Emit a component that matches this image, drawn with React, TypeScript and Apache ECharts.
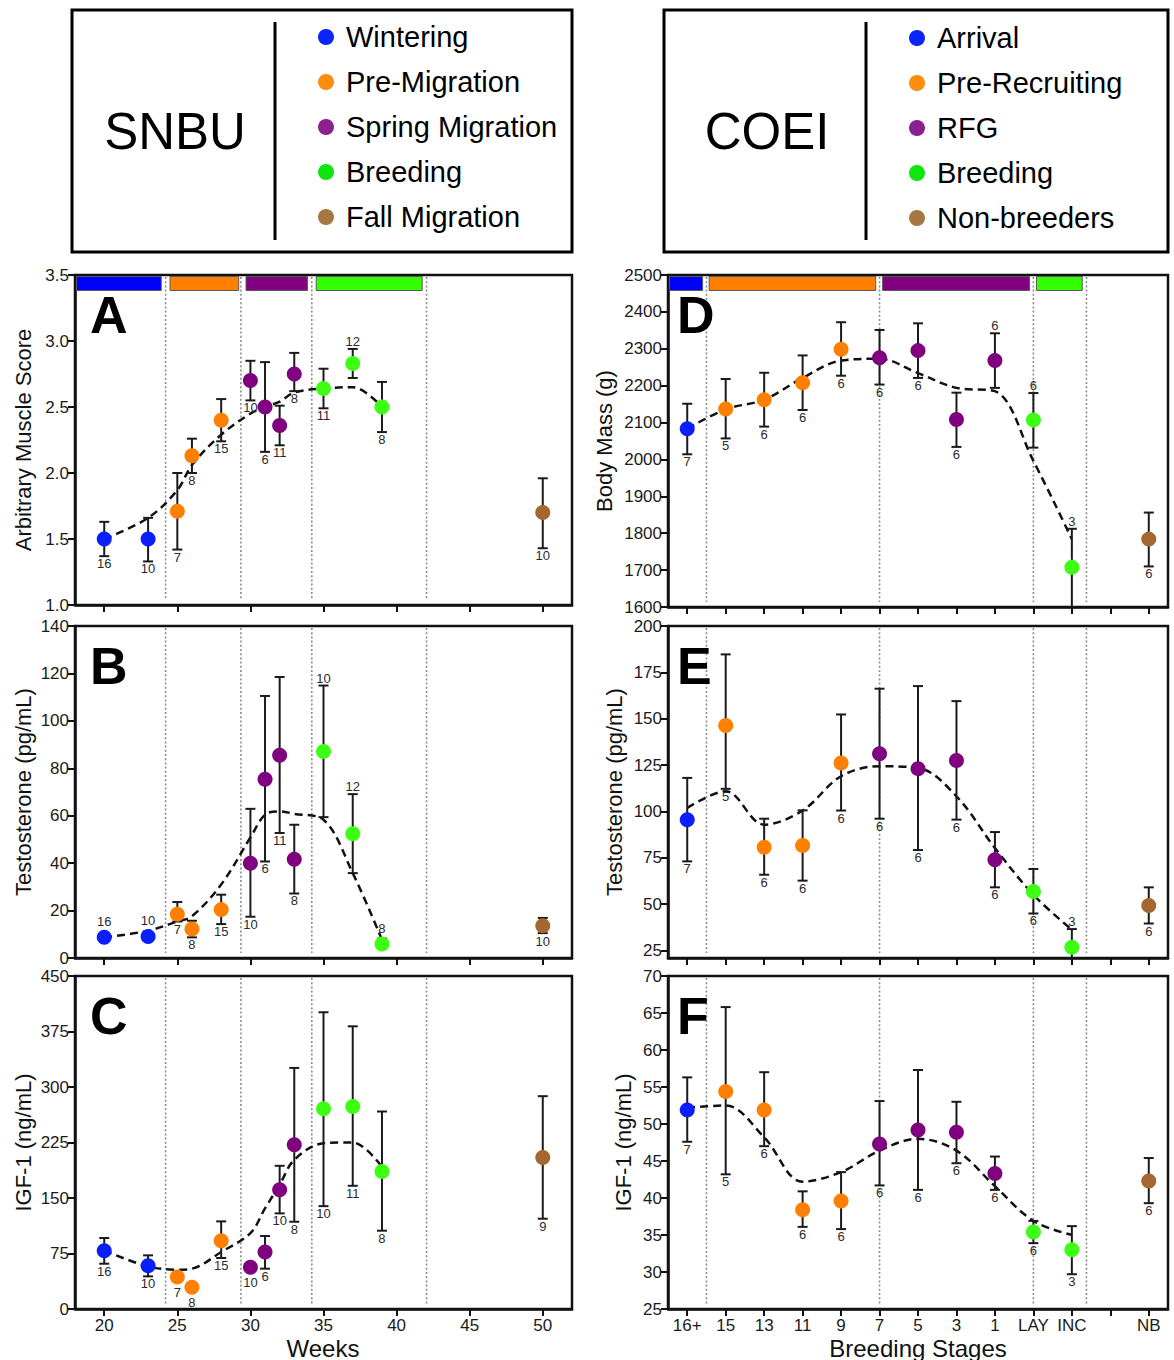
import React, { useEffect, useRef } from "react";
import * as echarts from "echarts";

const FONT = "'Liberation Sans', Arial, Helvetica, sans-serif";

// ---------- colours ----------
const POINT_COLORS = ["#0a1eff", "#ff7f00", "#800080", "#3cff14", "#a3672f"];
const BAR_COLORS = ["#0000ff", "#ff7f00", "#800080", "#33ff00"];
const LEGEND_DOT_COLORS = ["#0b24fb", "#fd8d0d", "#8e1f8e", "#0fe50f", "#a57743"];

// ---------- legends ----------
const SNBU_STAGES = ["Wintering", "Pre-Migration", "Spring Migration", "Breeding", "Fall Migration"];
const COEI_STAGES = ["Arrival", "Pre-Recruiting", "RFG", "Breeding", "Non-breeders"];

// ---------- SNBU (panels A-C) ----------
const WEEKS = [20, 23, 25, 26, 28, 30, 31, 32, 33, 35, 37, 39, 50];
const SNBU_GROUP = [0, 0, 1, 1, 1, 2, 2, 2, 2, 3, 3, 3, 4];
const WEEK_TICKS = [20, 25, 30, 35, 40, 45, 50];
const SNBU_DIVIDERS = [24.2, 29.35, 34.2, 42.05];
const SNBU_BAR_START = [18.1, 24.5, 29.7, 34.5];
const SNBU_BAR_END = [23.9, 29.2, 33.9, 41.75];
const SNBU_TREND_WEEKS = [20, 23, 25, 26, 28, 30, 31, 32, 33, 35, 37, 39];

const A_MEAN = [1.5, 1.5, 1.71, 2.13, 2.4, 2.7, 2.5, 2.36, 2.75, 2.64, 2.83, 2.5, 1.7];
const A_LOW = [1.37, 1.33, 1.42, 2.0, 2.24, 2.55, 2.16, 2.21, 2.62, 2.49, 2.72, 2.31, 1.43];
const A_HIGH = [1.63, 1.66, 2.0, 2.26, 2.56, 2.85, 2.84, 2.51, 2.91, 2.79, 2.94, 2.69, 1.96];
const A_N = [16, 10, 7, 8, 15, 10, 6, 11, 8, 11, 12, 8, 10];
const A_NABOVE = [0, 0, 0, 0, 0, 0, 0, 0, 0, 0, 1, 0, 0];
const A_TREND = [1.5, 1.66, 1.87, 2.06, 2.29, 2.45, 2.5, 2.54, 2.61, 2.64, 2.65, 2.5];

const B_MEAN = [8.7, 9.1, 18.5, 12.2, 20.4, 40.0, 75.4, 85.5, 41.6, 87.1, 52.4, 5.9, 13.6];
const B_LOW = [7.8, 8.2, 15.4, 8.7, 14.3, 17.4, 40.7, 52.7, 27.2, 59.4, 35.8, 4.5, 10.5];
const B_HIGH = [9.8, 10.0, 23.6, 15.7, 26.7, 62.9, 110.5, 118.5, 56.2, 114.9, 69.1, 8.2, 16.9];
const B_N = [16, 10, 7, 8, 15, 10, 6, 11, 8, 10, 12, 8, 10];
const B_NABOVE = [1, 1, 0, 0, 0, 0, 0, 0, 0, 1, 1, 1, 0];
const B_TREND = [8.7, 11.5, 15.4, 17.6, 31, 50.8, 60.4, 61.8, 60.8, 58.3, 35.8, 7.7];

const C_MEAN = [78.8, 58.5, 43.2, 29.3, 92.3, 56.3, 77, 161, 221.9, 270.5, 273.6, 185.9, 204.8];
const C_LOW = [61.2, 44.1, 43.2, 29.3, 68.9, 56.3, 54.5, 129.2, 117.9, 139, 166.5, 105.8, 122];
const C_HIGH = [95.9, 72.5, 43.2, 29.3, 118.4, 56.3, 98.6, 193.5, 325.8, 401, 382, 266.9, 287.6];
const C_N = [16, 10, 7, 8, 15, 10, 6, 10, 8, 10, 11, 8, 9];
const C_NABOVE = [0, 0, 0, 0, 0, 0, 0, 0, 0, 0, 0, 0, 0];
const C_TREND = [78.8, 57.6, 53.1, 54.5, 77, 102.6, 136, 168, 201.6, 224, 225, 192];

// ---------- COEI (panels D-F) ----------
const STAGE_LABELS = ["16+", "15", "13", "11", "9", "7", "5", "3", "1", "LAY", "INC", "", "NB"];
const STAGE_TICKS = [0, 1, 2, 3, 4, 5, 6, 7, 8, 9, 10, 11, 12];
const STAGE_X = [0, 1, 2, 3, 4, 5, 6, 7, 8, 9, 10, 12];
const COEI_GROUP = [0, 1, 1, 1, 1, 2, 2, 2, 2, 3, 3, 4];
const COEI_DIVIDERS = [0.5, 5, 9, 10.38];
const COEI_BAR_START = [-0.46, 0.57, 5.08, 9.08];
const COEI_BAR_END = [0.4, 4.9, 8.9, 10.27];
const COEI_TREND_X = [0, 1, 2, 3, 4, 5, 6, 7, 8, 9, 10];

const D_MEAN = [2083, 2137, 2162, 2208, 2299, 2276, 2295, 2108, 2268, 2107, 1708, 1784];
const D_LOW = [2014, 2057, 2089, 2134, 2227, 2203, 2221, 2034, 2194, 2032, 1600, 1710];
const D_HIGH = [2151, 2218, 2235, 2282, 2372, 2351, 2369, 2181, 2342, 2180, 1812, 1856];
const D_N = [7, 5, 6, 6, 6, 6, 6, 6, 6, 6, 3, 6];
const D_NABOVE = [0, 0, 0, 0, 0, 0, 0, 0, 1, 1, 1, 0];
const D_TREND = [2083, 2136, 2162, 2221, 2268, 2273, 2234, 2194, 2185, 1996, 1784];

const E_MEAN = [95.6, 146.4, 80.7, 81.7, 126.2, 131.1, 123.1, 127.5, 74, 56.9, 26.8, 49.3];
const E_LOW = [73.1, 112.2, 65.9, 62.7, 100.5, 96.1, 79.2, 95.6, 59.1, 45, 21, 39.6];
const E_HIGH = [118.1, 184.7, 96.1, 100.6, 152.3, 166.2, 167.6, 159.5, 88.9, 69, 36.6, 59.1];
const E_N = [7, 5, 6, 6, 6, 6, 6, 6, 6, 6, 3, 6];
const E_NABOVE = [0, 0, 0, 0, 0, 0, 0, 0, 0, 0, 1, 0];
const E_TREND = [101.9, 110.9, 92.9, 100.5, 119, 124.4, 123.5, 108.2, 80.3, 55.1, 36.2];
const E_TICKS = [25, 50, 75, 100, 125, 150, 175, 200];

const F_MEAN = [51.9, 54.4, 51.9, 38.4, 39.6, 47.3, 49.2, 48.9, 43.3, 35.4, 33.0, 42.3];
const F_LOW = [47.6, 43.2, 47.0, 36.1, 35.8, 41.7, 41.1, 44.7, 41.1, 33.9, 29.7, 39.3];
const F_HIGH = [56.3, 65.8, 57.0, 40.9, 43.5, 53.1, 57.3, 53.0, 45.6, 36.9, 36.2, 45.4];
const F_N = [7, 5, 6, 6, 6, 6, 6, 6, 6, 6, 3, 6];
const F_NABOVE = [0, 0, 0, 0, 0, 0, 0, 0, 0, 0, 0, 0];
const F_TREND = [52.2, 52.5, 48.2, 42.2, 43.5, 46.4, 48, 46.4, 41.6, 36.9, 35];

// ---------- helpers ----------
type Panel = {
  letter: string;
  grid: { left: number; top: number; width: number; height: number };
  xMin: number; xMax: number; xTicks: number[]; showXLabels: boolean; xFormatter?: (v: number) => string;
  yMin: number; yMax: number; yInterval?: number; yTicks?: number[]; yFormatter?: (v: number) => string;
  yName: string; yNameX: number;
  xs: number[]; groups: number[]; mean: number[]; low: number[]; high: number[]; n: number[]; nAbove: number[];
  trendX: number[]; trendY: number[];
  dividers: number[];
  bars?: { start: number[]; end: number[] };
};

const AXIS_COLOR = "#111";

function buildPanel(p: Panel, i: number, option: any) {
  option.grid.push({
    ...p.grid,
    show: true,
    borderColor: AXIS_COLOR,
    borderWidth: 2.5,
    backgroundColor: "rgba(0,0,0,0)",
    containLabel: false,
    outerBoundsMode: "none",
  });
  option.xAxis.push({
    type: "value",
    gridIndex: i,
    min: p.xMin,
    max: p.xMax,
    axisLine: { show: true, onZero: false, lineStyle: { color: AXIS_COLOR, width: 2.5 } },
    axisTick: { show: true, customValues: p.xTicks, length: 7, lineStyle: { color: AXIS_COLOR, width: 2 } },
    axisLabel: {
      show: p.showXLabels,
      customValues: p.xTicks,
      formatter: p.xFormatter || ((v: number) => String(v)),
      fontSize: 17,
      color: "#1a1a1a",
      fontFamily: FONT,
      margin: 8,
    },
    splitLine: { show: false },
  });
  const yAxis: any = {
    type: "value",
    gridIndex: i,
    min: p.yMin,
    max: p.yMax,
    axisLine: { show: true, onZero: false, lineStyle: { color: AXIS_COLOR, width: 2.5 } },
    axisTick: { show: true, length: 7, lineStyle: { color: AXIS_COLOR, width: 2 } },
    axisLabel: {
      fontSize: 17,
      color: "#1a1a1a",
      fontFamily: FONT,
      margin: 6,
      formatter: p.yFormatter || ((v: number) => String(v)),
    },
    splitLine: { show: false },
  };
  if (p.yInterval) yAxis.interval = p.yInterval;
  if (p.yTicks) {
    yAxis.axisTick.customValues = p.yTicks;
    yAxis.axisLabel.customValues = p.yTicks;
  }
  option.yAxis.push(yAxis);

  // dotted dividers
  option.series.push({
    type: "custom",
    xAxisIndex: i,
    yAxisIndex: i,
    z: 1,
    silent: true,
    data: p.dividers.map((d) => [d, p.yMin]),
    encode: { x: 0, y: 1 },
    renderItem: (params: any, api: any) => {
      const cs = params.coordSys;
      const pt = api.coord([api.value(0), api.value(1)]);
      return {
        type: "line",
        shape: { x1: pt[0], y1: cs.y + 2, x2: pt[0], y2: cs.y + cs.height - 5 },
        style: { stroke: "#8c8c8c", lineWidth: 1.6, lineDash: [2, 2.2] },
      };
    },
  });

  // stage bars on top
  if (p.bars) {
    option.series.push({
      type: "custom",
      xAxisIndex: i,
      yAxisIndex: i,
      z: 2,
      silent: true,
      data: p.bars.start.map((s, k) => [s, p.bars!.end[k], p.yMax, k]),
      encode: { x: [0, 1], y: 2 },
      renderItem: (params: any, api: any) => {
        const a = api.coord([api.value(0), api.value(2)]);
        const b = api.coord([api.value(1), api.value(2)]);
        return {
          type: "rect",
          shape: { x: a[0], y: a[1] + 1.5, width: b[0] - a[0], height: 14 },
          style: { fill: BAR_COLORS[api.value(3)], stroke: "#5a5a5a", lineWidth: 1 },
        };
      },
    });
  }

  // dashed trend
  option.series.push({
    type: "line",
    xAxisIndex: i,
    yAxisIndex: i,
    z: 3,
    silent: true,
    data: p.trendX.map((x, k) => [x, p.trendY[k]]),
    showSymbol: false,
    symbol: "none",
    smooth: 0.35,
    lineStyle: { color: "#111", width: 2.5, type: [8, 5] },
  });

  // error bars
  option.series.push({
    type: "custom",
    xAxisIndex: i,
    yAxisIndex: i,
    z: 4,
    silent: true,
    clip: true,
    data: p.xs.map((x, k) => [x, p.low[k], p.high[k]]),
    encode: { x: 0, y: [1, 2] },
    renderItem: (params: any, api: any) => {
      const x = api.value(0);
      const lo = api.value(1);
      const hi = api.value(2);
      if (hi - lo <= 0) return { type: "group", children: [] };
      const pl = api.coord([x, lo]);
      const ph = api.coord([x, hi]);
      const w = 5;
      const st = { stroke: "#1a1a1a", lineWidth: 2 };
      return {
        type: "group",
        children: [
          { type: "line", shape: { x1: pl[0], y1: pl[1], x2: ph[0], y2: ph[1] }, style: st },
          { type: "line", shape: { x1: ph[0] - w, y1: ph[1], x2: ph[0] + w, y2: ph[1] }, style: st },
          { type: "line", shape: { x1: pl[0] - w, y1: pl[1], x2: pl[0] + w, y2: pl[1] }, style: st },
        ],
      };
    },
  });

  // points
  option.series.push({
    type: "scatter",
    xAxisIndex: i,
    yAxisIndex: i,
    z: 5,
    silent: true,
    symbolSize: 15,
    data: p.xs.map((x, k) => ({
      value: [x, p.mean[k]],
      itemStyle: { color: POINT_COLORS[p.groups[k]], opacity: 1 },
    })),
  });

  // n labels
  option.series.push({
    type: "custom",
    xAxisIndex: i,
    yAxisIndex: i,
    z: 6,
    silent: true,
    data: p.xs.map((x, k) => [x, p.mean[k], p.low[k], p.high[k], p.n[k], p.nAbove[k]]),
    encode: { x: 0, y: 1 },
    renderItem: (params: any, api: any) => {
      const x = api.value(0);
      const m = api.value(1);
      const lo = api.value(2);
      const hi = api.value(3);
      const n = api.value(4);
      const above = api.value(5);
      const pm = api.coord([x, m]);
      let y: number;
      let va: string;
      if (above) {
        const pa = api.coord([x, hi]);
        y = Math.min(pa[1], pm[1] - 8) - 1;
        va = "bottom";
      } else {
        const pa = api.coord([x, lo]);
        y = Math.max(pa[1], pm[1] + 8) + 1;
        va = "top";
      }
      return {
        type: "text",
        x: pm[0],
        y,
        style: {
          text: String(n),
          fill: "#2a2a2a",
          fontSize: 13,
          fontFamily: FONT,
          align: "center",
          verticalAlign: va,
        },
      };
    },
  });

  // panel letter
  option.graphic.push({
    type: "text",
    x: p.grid.left + (i < 3 ? 15 : 9),
    y: p.grid.top + 40,
    z: 10,
    style: { text: p.letter, font: `bold 52px ${FONT}`, fill: "#000", align: "left", verticalAlign: "middle" },
  });
  // y axis name
  option.graphic.push({
    type: "text",
    x: p.yNameX,
    y: p.grid.top + p.grid.height / 2,
    rotation: Math.PI / 2,
    z: 10,
    style: { text: p.yName, font: `22px ${FONT}`, fill: "#111", align: "center", verticalAlign: "middle" },
  });
}

function legendGraphics(boxX: number, boxW: number, title: string, titleX: number, dividerX: number, names: string[], dotX: number, y0: number) {
  const els: any[] = [
    { type: "rect", shape: { x: boxX, y: 10, width: boxW, height: 242 }, style: { fill: "#fff", stroke: "#000", lineWidth: 3 }, z: 1 },
    { type: "line", shape: { x1: dividerX, y1: 22, x2: dividerX, y2: 240 }, style: { stroke: "#000", lineWidth: 3 }, z: 2 },
    { type: "text", x: titleX, y: 131, z: 2, style: { text: title, font: `51px ${FONT}`, fill: "#000", align: "center", verticalAlign: "middle" } },
  ];
  names.forEach((nm, k) => {
    const y = y0 + k * 45;
    els.push({ type: "circle", shape: { cx: dotX, cy: y, r: 8 }, style: { fill: LEGEND_DOT_COLORS[k] }, z: 2 });
    els.push({ type: "text", x: dotX + 20, y: y, z: 2, style: { text: nm, font: `29px ${FONT}`, fill: "#000", align: "left", verticalAlign: "middle" } });
  });
  return els;
}

export default function App() {
  const ref = useRef<HTMLDivElement>(null);

  useEffect(() => {
    document.body.style.margin = "0";
    if (!ref.current) return;
    const chart = echarts.init(ref.current, null, { renderer: "svg", width: 1174, height: 1360 });

    const option: any = {
      animation: false,
      backgroundColor: "#fff",
      textStyle: { fontFamily: FONT },
      grid: [],
      xAxis: [],
      yAxis: [],
      series: [],
      graphic: [],
    };

    const leftGrid = (top: number, height: number) => ({ left: 75, top, width: 497, height });
    const rightGrid = (top: number, height: number) => ({ left: 668, top, width: 500, height });
    const weekFmt = (v: number) => String(v);
    const stageFmt = (v: number) => STAGE_LABELS[Math.round(v)] ?? "";

    const panels: Panel[] = [
      {
        letter: "A", grid: leftGrid(275, 330), xMin: 18, xMax: 52, xTicks: WEEK_TICKS, showXLabels: false, xFormatter: weekFmt,
        yMin: 1, yMax: 3.5, yInterval: 0.5, yFormatter: (v) => v.toFixed(1), yName: "Arbitrary Muscle Score", yNameX: 23,
        xs: WEEKS, groups: SNBU_GROUP, mean: A_MEAN, low: A_LOW, high: A_HIGH, n: A_N, nAbove: A_NABOVE,
        trendX: SNBU_TREND_WEEKS, trendY: A_TREND, dividers: SNBU_DIVIDERS, bars: { start: SNBU_BAR_START, end: SNBU_BAR_END },
      },
      {
        letter: "B", grid: leftGrid(626, 332), xMin: 18, xMax: 52, xTicks: WEEK_TICKS, showXLabels: false, xFormatter: weekFmt,
        yMin: 0, yMax: 140, yInterval: 20, yName: "Testosterone (pg/mL)", yNameX: 23,
        xs: WEEKS, groups: SNBU_GROUP, mean: B_MEAN, low: B_LOW, high: B_HIGH, n: B_N, nAbove: B_NABOVE,
        trendX: SNBU_TREND_WEEKS, trendY: B_TREND, dividers: SNBU_DIVIDERS,
      },
      {
        letter: "C", grid: leftGrid(976, 333), xMin: 18, xMax: 52, xTicks: WEEK_TICKS, showXLabels: true, xFormatter: weekFmt,
        yMin: 0, yMax: 450, yInterval: 75, yName: "IGF-1 (ng/mL)", yNameX: 23,
        xs: WEEKS, groups: SNBU_GROUP, mean: C_MEAN, low: C_LOW, high: C_HIGH, n: C_N, nAbove: C_NABOVE,
        trendX: SNBU_TREND_WEEKS, trendY: C_TREND, dividers: SNBU_DIVIDERS,
      },
      {
        letter: "D", grid: rightGrid(275, 332), xMin: -0.5, xMax: 12.5, xTicks: STAGE_TICKS, showXLabels: false, xFormatter: stageFmt,
        yMin: 1600, yMax: 2500, yInterval: 100, yName: "Body Mass (g)", yNameX: 604,
        xs: STAGE_X, groups: COEI_GROUP, mean: D_MEAN, low: D_LOW, high: D_HIGH, n: D_N, nAbove: D_NABOVE,
        trendX: COEI_TREND_X, trendY: D_TREND, dividers: COEI_DIVIDERS, bars: { start: COEI_BAR_START, end: COEI_BAR_END },
      },
      {
        letter: "E", grid: rightGrid(626, 332), xMin: -0.5, xMax: 12.5, xTicks: STAGE_TICKS, showXLabels: false, xFormatter: stageFmt,
        yMin: 21, yMax: 200, yTicks: E_TICKS, yName: "Testosterone (pg/mL)", yNameX: 614,
        xs: STAGE_X, groups: COEI_GROUP, mean: E_MEAN, low: E_LOW, high: E_HIGH, n: E_N, nAbove: E_NABOVE,
        trendX: COEI_TREND_X, trendY: E_TREND, dividers: COEI_DIVIDERS,
      },
      {
        letter: "F", grid: rightGrid(976, 333), xMin: -0.5, xMax: 12.5, xTicks: STAGE_TICKS, showXLabels: true, xFormatter: stageFmt,
        yMin: 25, yMax: 70, yInterval: 5, yName: "IGF-1 (ng/mL)", yNameX: 623,
        xs: STAGE_X, groups: COEI_GROUP, mean: F_MEAN, low: F_LOW, high: F_HIGH, n: F_N, nAbove: F_NABOVE,
        trendX: COEI_TREND_X, trendY: F_TREND, dividers: COEI_DIVIDERS,
      },
    ];

    panels.forEach((p, i) => buildPanel(p, i, option));

    option.graphic.push(...legendGraphics(72, 500, "SNBU", 175, 275, SNBU_STAGES, 326, 37));
    option.graphic.push(...legendGraphics(664, 504, "COEI", 767, 866, COEI_STAGES, 917, 38));

    option.graphic.push({
      type: "text", x: 323, y: 1348, z: 10,
      style: { text: "Weeks", font: `24px ${FONT}`, fill: "#111", align: "center", verticalAlign: "middle" },
    });
    option.graphic.push({
      type: "text", x: 918, y: 1348, z: 10,
      style: { text: "Breeding Stages", font: `24px ${FONT}`, fill: "#111", align: "center", verticalAlign: "middle" },
    });

    chart.setOption(option);
    return () => {
      chart.dispose();
    };
  }, []);

  return <div ref={ref} style={{ width: 1174, height: 1360 }} />;
}
